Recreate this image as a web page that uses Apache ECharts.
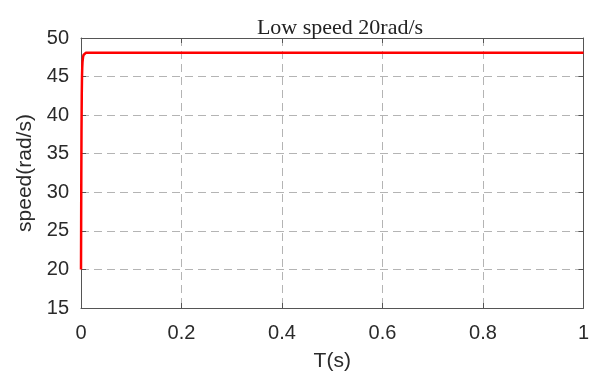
<!DOCTYPE html>
<html>
<head>
<meta charset="utf-8">
<script src="https://cdn.jsdelivr.net/npm/echarts@6/dist/echarts.min.js"></script>
<style>html,body{margin:0;padding:0;background:#fff}#c{width:592px;height:377px}</style>
</head>
<body>
<div id="c"></div>
<script>
const titleText = 'Low speed 20rad/s';
const xName = 'T(s)';
const yName = 'speed(rad/s)';
const timeS = [0, 0.0003, 0.0006, 0.001, 0.0015, 0.002, 0.0025, 0.003, 0.004, 0.005, 0.006, 0.008, 0.01, 0.012, 0.015, 0.02, 0.05, 0.2, 0.4, 0.6, 0.8, 1];
const speed = [20, 26, 32, 38, 42.5, 45, 46.2, 46.9, 47.5, 47.8, 47.95, 48.05, 48.1, 48.1, 48.1, 48.1, 48.1, 48.1, 48.1, 48.1, 48.1, 48.1];
const xTicks = [0, 0.2, 0.4, 0.6, 0.8, 1];
const yTicks = [15, 20, 25, 30, 35, 40, 45, 50];

const axisColor = '#555';
const labelColor = '#2a2a2a';
const sans = 'Liberation Sans, Arial, sans-serif';

const chart = echarts.init(document.getElementById('c'), null, {renderer: 'canvas'});
const data = timeS.map((t, i) => [t, speed[i]]);

const gridLine = {show: true, lineStyle: {color: '#b4b4b4', type: [8, 5], width: 1}};
chart.setOption({
  animation: false,
  backgroundColor: '#fff',
  title: {
    text: titleText, left: 335, top: 12, textAlign: 'center',
    textStyle: {fontFamily: 'Liberation Serif, Times New Roman, serif', fontSize: 22, fontWeight: 'normal', color: '#222'}
  },
  grid: {left: 81, right: 3, top: 38, bottom: 69, containLabel: false},
  xAxis: [{
    type: 'value', min: xTicks[0], max: xTicks[xTicks.length - 1], interval: 0.2, position: 'bottom',
    name: xName, nameLocation: 'middle', nameGap: 43,
    nameTextStyle: {fontFamily: sans, fontSize: 21, color: labelColor},
    axisLine: {show: true, onZero: false, lineStyle: {color: axisColor, width: 1}},
    axisTick: {show: true, inside: true, length: 5, lineStyle: {color: axisColor}},
    axisLabel: {fontFamily: sans, fontSize: 20, color: labelColor, margin: 15},
    splitLine: gridLine
  }, {
    type: 'value', min: xTicks[0], max: xTicks[xTicks.length - 1], interval: 0.2, position: 'top',
    axisLine: {show: true, onZero: false, lineStyle: {color: axisColor, width: 1}},
    axisTick: {show: true, inside: true, length: 5, lineStyle: {color: axisColor}},
    axisLabel: {show: false}, splitLine: {show: false}
  }],
  yAxis: [{
    type: 'value', min: yTicks[0], max: yTicks[yTicks.length - 1], interval: 5, position: 'left',
    name: yName, nameLocation: 'middle', nameGap: 45,
    nameTextStyle: {fontFamily: sans, fontSize: 21, color: labelColor},
    axisLine: {show: true, onZero: false, lineStyle: {color: axisColor, width: 1}},
    axisTick: {show: true, inside: true, length: 5, lineStyle: {color: axisColor}},
    axisLabel: {fontFamily: sans, fontSize: 20, color: labelColor, margin: 12},
    splitLine: gridLine
  }, {
    type: 'value', min: yTicks[0], max: yTicks[yTicks.length - 1], interval: 5, position: 'right',
    axisLine: {show: true, onZero: false, lineStyle: {color: axisColor, width: 1}},
    axisTick: {show: true, inside: true, length: 5, lineStyle: {color: axisColor}},
    axisLabel: {show: false}, splitLine: {show: false}
  }],
  series: [{
    type: 'line', data: data, xAxisIndex: 0, yAxisIndex: 0,
    showSymbol: false, symbol: 'none', smooth: false, clip: true,
    lineStyle: {color: '#ff0000', width: 2.5}
  }]
});
</script>
</body>
</html>
